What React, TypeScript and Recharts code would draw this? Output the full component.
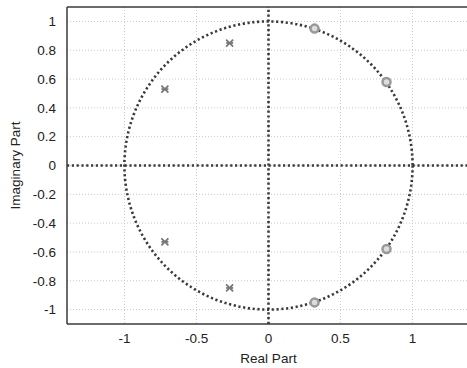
import React from "react";
import {
  ScatterChart,
  Scatter,
  XAxis,
  YAxis,
  CartesianGrid,
  ReferenceLine,
  ReferenceDot,
} from "recharts";

// zeros (x marks) and poles (circles)
const zeros = [
  { re: -0.27, im: 0.85 },
  { re: -0.72, im: 0.53 },
  { re: -0.72, im: -0.53 },
  { re: -0.27, im: -0.85 },
];

const poles = [
  { re: 0.32, im: 0.95 },
  { re: 0.82, im: 0.58 },
  { re: 0.82, im: -0.58 },
  { re: 0.32, im: -0.95 },
];

const xTicks = [-1, -0.5, 0, 0.5, 1];
const yTicks = [-1, -0.8, -0.6, -0.4, -0.2, 0, 0.2, 0.4, 0.6, 0.8, 1];

const xDomain = [-1.4, 1.4];
const yDomain = [-1.1, 1.1];

const W = 500;
const H = 368;
const M = { top: 7, right: 30, left: 0, bottom: 0 };
const Y_AXIS_W = 67;
const X_AXIS_H = 44;

// pixels per unit along y, used for the unit circle radius
const plotH = H - M.top - M.bottom - X_AXIS_H;
const unitPx = plotH / (yDomain[1] - yDomain[0]);

const dark = "#3a3a3a";
const font = "Liberation Sans, Arial, sans-serif";
const textStyle = { fontSize: 13.5, fill: "#222", fontFamily: font, fontWeight: 500 };

const ZeroMark = (props: any) => {
  const { cx, cy } = props;
  const s = 3.5;
  return (
    <g stroke="#777" strokeWidth={1.8}>
      <line x1={cx - s} y1={cy - s} x2={cx + s} y2={cy + s} />
      <line x1={cx - s} y1={cy + s} x2={cx + s} y2={cy - s} />
      <line x1={cx - s} y1={cy} x2={cx + s} y2={cy} />
    </g>
  );
};

const PoleMark = (props: any) => {
  const { cx, cy } = props;
  return <circle cx={cx} cy={cy} r={4} fill="#ddd" stroke="#999" strokeWidth={2.5} />;
};

const UnitCircle = (props: any) => {
  const { cx, cy } = props;
  return (
    <circle
      cx={cx}
      cy={cy}
      r={unitPx}
      fill="none"
      stroke={dark}
      strokeWidth={2.6}
      strokeDasharray="2.2 2.6"
    />
  );
};

export default function App() {
  return (
    <div
      style={{
        position: "absolute",
        left: 0,
        top: 0,
        width: 467,
        height: 368,
        overflow: "hidden",
        background: "#fff",
      }}
    >
      <ScatterChart width={W} height={H} margin={M}>
        <CartesianGrid
          stroke="#c8c8c8"
          strokeDasharray="1 2"
          horizontalValues={yTicks}
          verticalValues={xTicks}
        />
        <XAxis
          type="number"
          dataKey="re"
          domain={xDomain}
          ticks={xTicks}
          allowDataOverflow
          height={X_AXIS_H}
          tickSize={0}
          tickMargin={9}
          axisLine={{ stroke: dark, strokeWidth: 1.5 }}
          tick={textStyle}
          label={{
            value: "Real Part",
            position: "insideBottom",
            offset: 5,
            style: textStyle,
          }}
        />
        <YAxis
          type="number"
          dataKey="im"
          domain={yDomain}
          ticks={yTicks}
          allowDataOverflow
          width={Y_AXIS_W}
          tickSize={0}
          tickMargin={11}
          axisLine={{ stroke: dark, strokeWidth: 1.5 }}
          tick={textStyle}
          label={{
            value: "Imaginary Part",
            angle: -90,
            position: "insideLeft",
            offset: 15,
            style: { ...textStyle, textAnchor: "middle" },
          }}
        />
        <ReferenceLine y={yDomain[1]} stroke={dark} strokeWidth={1.5} />
        <ReferenceLine x={0} stroke={dark} strokeWidth={2.6} strokeDasharray="2.2 2.6" />
        <ReferenceLine y={0} stroke={dark} strokeWidth={2.6} strokeDasharray="2.2 2.6" />
        <ReferenceDot x={0} y={0} shape={UnitCircle} />
        <Scatter data={zeros} shape={ZeroMark} isAnimationActive={false} />
        <Scatter data={poles} shape={PoleMark} isAnimationActive={false} />
      </ScatterChart>
    </div>
  );
}
